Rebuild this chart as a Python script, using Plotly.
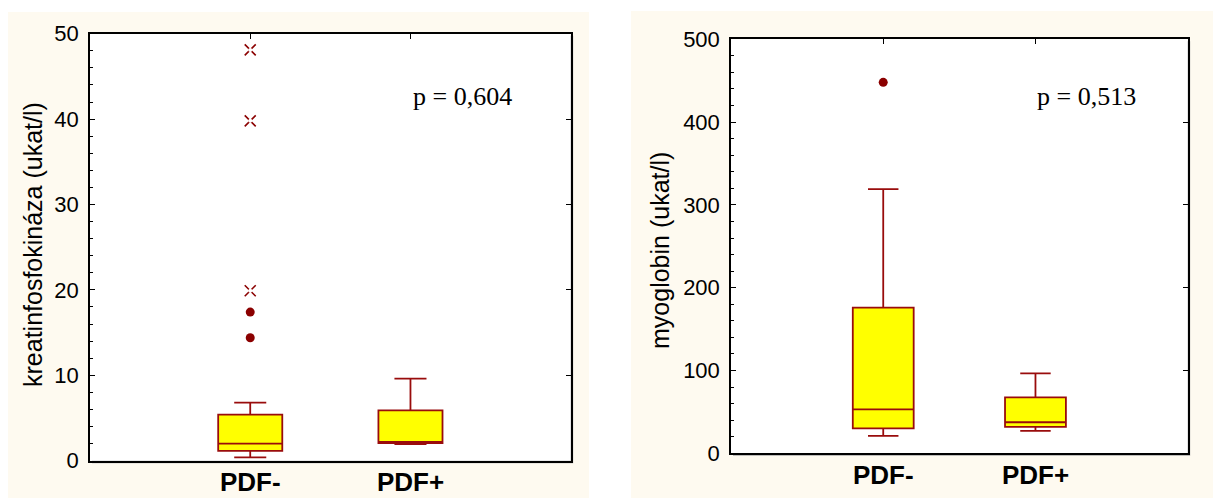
import plotly.graph_objects as go

# ---- data ----
groups = ["PDF-", "PDF+"]

# kreatinfosfokináza (ukat/l)
ck_lower = [0.4, 1.95]
ck_q1 = [1.15, 2.05]
ck_median = [2.0, 2.2]
ck_q3 = [5.4, 5.9]
ck_upper = [6.8, 9.6]
ck_outliers = [14.4, 17.4]          # PDF- group
ck_extremes = [19.9, 39.8, 48.1]    # PDF- group

# myoglobin (ukat/l)
mb_lower = [21, 27]
mb_q1 = [30, 32]
mb_median = [53, 37.5]
mb_q3 = [176, 67.5]
mb_upper = [319, 96.5]
mb_outliers = [448]                 # PDF- group

p_values = ["p = 0,604", "p = 0,513"]
y_titles = ["kreatinfosfokináza (ukat/l)", "myoglobin (ukat/l)"]

# ---- style ----
W, H = 1213, 498
CREAM = "#FEFAF0"
BOX_LINE = "#990C0C"
BOX_FILL = "#FFFF00"
DOT = "#8B0000"
SANS = "Liberation Sans, Arial, sans-serif"
SERIF = "Liberation Serif, Times New Roman, serif"

pos = list(range(len(groups)))

fig = go.Figure()


def add_boxes(xa, ya, lower, q1, med, q3, upper):
    fig.add_trace(go.Box(
        x=pos, q1=q1, median=med, q3=q3, lowerfence=lower, upperfence=upper,
        boxpoints=False, width=0.4, whiskerwidth=0.5,
        fillcolor=BOX_FILL, line=dict(color=BOX_LINE, width=1.8),
        xaxis=xa, yaxis=ya, showlegend=False, hoverinfo="skip",
    ))


add_boxes("x", "y", ck_lower, ck_q1, ck_median, ck_q3, ck_upper)
add_boxes("x2", "y2", mb_lower, mb_q1, mb_median, mb_q3, mb_upper)

# outliers (filled dots)
fig.add_trace(go.Scatter(
    x=[pos[0]] * len(ck_outliers), y=ck_outliers, mode="markers",
    marker=dict(symbol="circle", size=9, color=DOT),
    xaxis="x", yaxis="y", showlegend=False, hoverinfo="skip"))
fig.add_trace(go.Scatter(
    x=[pos[0]] * len(mb_outliers), y=mb_outliers, mode="markers",
    marker=dict(symbol="circle", size=9, color=DOT),
    xaxis="x2", yaxis="y2", showlegend=False, hoverinfo="skip"))

# extremes (open crosses with a hollow centre)
fig.add_trace(go.Scatter(
    x=[pos[0]] * len(ck_extremes), y=ck_extremes, mode="markers",
    marker=dict(symbol="x-thin-open", size=11, color=DOT,
                line=dict(color=DOT, width=1.6)),
    xaxis="x", yaxis="y", showlegend=False, hoverinfo="skip"))
fig.add_trace(go.Scatter(
    x=[pos[0]] * len(ck_extremes), y=ck_extremes, mode="markers",
    marker=dict(symbol="circle", size=4, color="white"),
    xaxis="x", yaxis="y", showlegend=False, hoverinfo="skip"))

# empty traces so the overlay tick axes are laid out
fig.add_trace(go.Scatter(x=[], y=[], xaxis="x3", yaxis="y3", showlegend=False))
fig.add_trace(go.Scatter(x=[], y=[], xaxis="x4", yaxis="y4", showlegend=False))

# plot-area domains (paper fractions)
dom1_x = [90 / W, 570.7 / W]
dom1_y = [1 - 460.7 / H, 1 - 33.7 / H]
dom2_x = [731 / W, 1187.7 / W]
dom2_y = [1 - 453.3 / H, 1 - 39.3 / H]

tickfont = dict(family=SANS, size=22, color="black")
catfont = dict(family=SANS, size=26, color="black", weight="bold")

base_x = dict(range=[-1, 2], tickvals=pos, ticks="", showticklabels=False,
              showline=True, linecolor="black", linewidth=1.5, mirror=True,
              showgrid=False, zeroline=False, fixedrange=True, automargin=False)
top_x = dict(range=[-1, 2], tickvals=pos, ticks="inside", ticklen=5,
             tickcolor="black", side="top", showticklabels=False,
             showline=False, showgrid=False, zeroline=False, automargin=False)
base_y = dict(ticks="inside", ticklen=5, tickcolor="black",
              showline=True, linecolor="black", linewidth=1.5, mirror=True,
              showgrid=False, zeroline=False, tickfont=tickfont, ticklabelstandoff=5,
              automargin=False)
right_y = dict(ticks="inside", ticklen=5, tickcolor="black", side="right",
               showticklabels=False, showline=False, showgrid=False, zeroline=False,
               automargin=False)


def panel(x0, x1, y0, y1, color):
    return dict(type="rect", xref="paper", yref="paper", x0=x0, x1=x1, y0=y0, y1=y1,
                fillcolor=color, line=dict(width=0), layer="below")


# group labels under each plot
cat_labels = []
for xref, top_px in (("x", 465), ("x2", 458)):
    for p, g in zip(pos, groups):
        cat_labels.append(dict(text=g, xref=xref, yref="paper", x=p, y=1 - top_px / H,
                               showarrow=False, xanchor="center", yanchor="top",
                               font=catfont))

fig.update_layout(
    width=W, height=H, margin=dict(l=0, r=0, t=0, b=0, pad=0, autoexpand=False),
    paper_bgcolor="white", plot_bgcolor="white",
    xaxis=dict(base_x, domain=dom1_x, anchor="y"),
    yaxis=dict(base_y, domain=dom1_y, anchor="x", range=[0, 50], dtick=10,
               minor=dict(dtick=2, ticks="inside", ticklen=3, tickcolor="black")),
    xaxis2=dict(base_x, domain=dom2_x, anchor="y2"),
    yaxis2=dict(base_y, domain=dom2_y, anchor="x2", range=[0, 500], dtick=100,
                minor=dict(dtick=20, ticks="inside", ticklen=3, tickcolor="black")),
    xaxis3=dict(top_x, overlaying="x", anchor="y"),
    yaxis3=dict(right_y, overlaying="y", anchor="x", range=[0, 50], dtick=10),
    xaxis4=dict(top_x, overlaying="x2", anchor="y2"),
    yaxis4=dict(right_y, overlaying="y2", anchor="x2", range=[0, 500], dtick=100),
    shapes=[
        # cream panels
        panel(8 / W, 589 / W, 0, 1 - 12 / H, CREAM),
        panel(631 / W, 1, 0, 1 - 11 / H, CREAM),
        # soft grey shadow along the right/bottom frame edges
        panel(dom1_x[0] + 2 / W, dom1_x[1] + 2.5 / W, dom1_y[0] - 2.5 / H, dom1_y[1] - 2 / H, "#A8A8A8"),
        panel(dom2_x[0] + 2 / W, dom2_x[1] + 2.5 / W, dom2_y[0] - 2.5 / H, dom2_y[1] - 2 / H, "#A8A8A8"),
        # white plot areas
        panel(dom1_x[0], dom1_x[1], dom1_y[0], dom1_y[1], "white"),
        panel(dom2_x[0], dom2_x[1], dom2_y[0], dom2_y[1], "white"),
    ],
    annotations=[
        dict(text=y_titles[0], xref="paper", yref="paper", x=33 / W, y=1 - 245 / H,
             textangle=-90, showarrow=False, xanchor="center", yanchor="middle",
             font=dict(family=SANS, size=25, color="black")),
        dict(text=y_titles[1], xref="paper", yref="paper", x=660 / W, y=1 - 251 / H,
             textangle=-90, showarrow=False, xanchor="center", yanchor="middle",
             font=dict(family=SANS, size=25, color="black")),
        dict(text=p_values[0], xref="paper", yref="paper", x=411 / W, y=1 - 97 / H,
             showarrow=False, xanchor="left", yanchor="middle",
             font=dict(family=SERIF, size=26, color="black")),
        dict(text=p_values[1], xref="paper", yref="paper", x=1035 / W, y=1 - 97 / H,
             showarrow=False, xanchor="left", yanchor="middle",
             font=dict(family=SERIF, size=26, color="black")),
    ] + cat_labels,
)

fig.write_html("out.html")
